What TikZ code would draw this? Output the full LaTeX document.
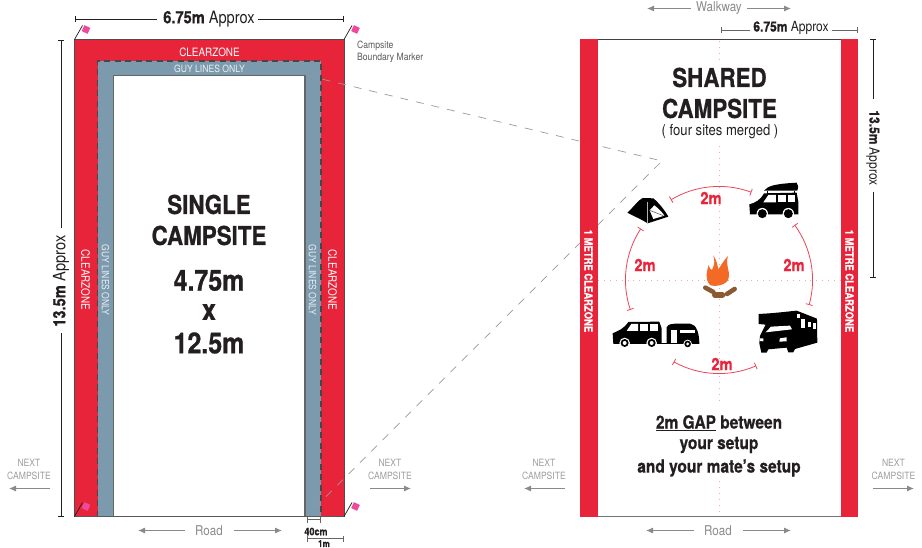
\documentclass[tikz,border=0pt]{standalone}
\usepackage{fontspec}
\usetikzlibrary{arrows.meta}
\setmainfont{TeX Gyre Heros}[FakeStretch=0.86,BoldFeatures={FakeBold=0.7}]
\definecolor{cred}{HTML}{E8243A}
\definecolor{cblue}{HTML}{7B9AAD}
\definecolor{cpink}{HTML}{EE4A9B}
\definecolor{cgrey}{HTML}{8A8A8A}
\definecolor{cdark}{HTML}{231F20}
\definecolor{corange}{HTML}{F26A26}
\definecolor{cbrown}{HTML}{8B5A33}
\definecolor{cdot}{HTML}{F6A9A9}
\tikzset{
  head/.style={font=\fontsize{26}{27}\selectfont\bfseries,text=cdark,inner sep=0pt},
  headnum/.style={font=\fontsize{29}{29}\selectfont\bfseries,text=cdark,inner sep=0pt},
  dimtext/.style={font=\fontsize{17}{17}\selectfont,text=cdark,inner sep=0pt},
  smalldim/.style={font=\fontsize{14}{14}\selectfont,text=cdark,inner sep=0pt},
  zone/.style={font=\fontsize{11.5}{11.5}\selectfont,text=white,inner sep=0pt},
  guy/.style={font=\fontsize{10}{10}\selectfont,text=white!85!cblue,inner sep=0pt},
  metre/.style={font=\fontsize{11}{11}\selectfont\bfseries,text=white,inner sep=0pt},
  greytext/.style={font=\fontsize{13.5}{13.5}\selectfont,text=cgrey,inner sep=0pt},
  nexttext/.style={font=\fontsize{10}{13}\selectfont,text=black!38,inner sep=0pt,align=center},
  gaplabel/.style={font=\fontsize{18}{22}\selectfont\bfseries,text=cdark,inner sep=0pt,align=center},
  twom/.style={font=\fontsize{17}{17}\selectfont\bfseries,text=cred,inner sep=0pt},
  dimline/.style={draw=cdark,line width=0.9pt,{Bar[width=6pt,length=0.9pt]}-{Bar[width=6pt,length=0.9pt]}},
  dimhalf/.style={draw=cdark,line width=0.9pt,{Bar[width=6pt,length=0.9pt]}-},
  dimhalfb/.style={draw=cdark,line width=0.9pt,-{Bar[width=6pt,length=0.9pt]}},
  greyarrow/.style={draw=cgrey,line width=1pt,-{Latex[length=7pt,width=6pt]}},
  ringarc/.style={draw=cred!85,line width=0.8pt,{Bar[width=7pt,length=0.8pt]}-{Bar[width=7pt,length=0.8pt]}},
  dotline/.style={draw=cdot,line width=0.9pt,dash pattern=on 0.9pt off 5pt},
  link/.style={draw=black!40,line width=0.7pt,dash pattern=on 8pt off 8pt},
  flagpole/.style={draw=cdark,line width=0.7pt},
  flag/.style={fill=cpink,draw=none,minimum width=6.5pt,minimum height=6.5pt,inner sep=0pt,rotate=-25},
  logline/.style={draw=cbrown,line width=4.6pt,line cap=round},
}
\begin{document}
\begin{tikzpicture}[x=1pt,y=-1pt]
\useasboundingbox (0,0) rectangle (922,548);
% ---------- left campsite
\fill[cred] (74.5,39.5) rectangle (344,516.5);
\draw[cdark!80,line width=0.8pt] (74.5,516.5) -- (74.5,39.5) -- (344,39.5) -- (344,516.5);
\fill[cblue] (97.5,61) rectangle (321,516.5);
\fill[white] (113.5,75.5) rectangle (305,516.5);
\draw[black!60,line width=1.1pt] (113.5,516.5) -- (113.5,75.5) -- (305,75.5) -- (305,516.5);
\draw[black!72,line width=1.4pt,dash pattern=on 6pt off 4.5pt] (97.5,516.5) -- (97.5,61) -- (321,61) -- (321,516.5);
\draw[black!65,line width=1.2pt] (74.5,516.5) -- (344,516.5);
% link lines
\coordinate (lkT) at (307,75.5);
\coordinate (lkB) at (307,515.5);
\coordinate (lkA) at (662,161);
\draw[link] (lkT) -- (lkA) -- (lkB);
% flags
\foreach \nm/\bx/\by in {a/74.5/39.5,b/344/39.5,c/74.5/516.5,d/344/516.5}{
  \coordinate (pole\nm) at (\bx,\by);
  \node[flag] (flag\nm) at (\bx+11.5,\by-10) {};
  \draw[flagpole] (pole\nm) -- ++(8,-14);
}
% texts
\node[zone] (cz1) at (209.5,52) {CLEARZONE};
\node[guy] (gl1) at (209.5,69) {GUY LINES ONLY};
\node[zone,rotate=-90] (cz2) at (85.5,280) {CLEARZONE};
\node[zone,rotate=-90] (cz3) at (332.5,280) {CLEARZONE};
\node[guy,rotate=-90] (gl2) at (105.5,280) {GUY LINES ONLY};
\node[guy,rotate=-90] (gl3) at (312.5,280) {GUY LINES ONLY};
\node[head] (s1) at (209,204.5) {SINGLE};
\node[head] (s2) at (209,235.5) {CAMPSITE};
\node[headnum] (s3) at (209,280.5) {4.75m};
\node[headnum] (s4) at (209,312) {x};
\node[headnum] (s5) at (209,343) {12.5m};
% dimensions left
\node[dimtext] (dt) at (209,19) {\textbf{6.75m} Approx};
\coordinate (dtL) at (74.5,19); \coordinate (dtR) at (343.5,19);
\draw[dimhalf] (dtL) -- (157,19);
\draw[dimhalfb] (258,19) -- (dtR);
\node[dimtext,rotate=90] (dl) at (61,281) {\textbf{13.5m} Approx};
\coordinate (dlT) at (61,40.5); \coordinate (dlB) at (61,516.5);
\draw[dimhalf] (dlT) -- (61,228);
\draw[dimhalfb] (61,333) -- (dlB);
\node[font=\fontsize{10}{12}\selectfont,text=black!65,inner sep=0pt,align=left,anchor=north west] (bm) at (357,40.5) {Campsite\\Boundary Marker};
\coordinate (d40a) at (306.5,519.5); \coordinate (d40b) at (320.5,519.5);
\draw[dimline,draw=black!60] (d40a) -- (d40b);
\node[font=\fontsize{10.5}{10.5}\selectfont\bfseries,text=cdark,inner sep=0pt] (n40) at (316,531.5) {40cm};
\coordinate (d1a) at (306.5,538.5); \coordinate (d1b) at (343.5,538.5);
\draw[dimline,draw=black!60] (d1a) -- (d1b);
\node[font=\fontsize{9.5}{9.5}\selectfont\bfseries,text=cdark,inner sep=0pt] (n1m) at (324,543.6) {1m};
% grey annotations left
\node[greytext] (road1) at (209,531) {Road};
\draw[greyarrow] (185,530.5) -- (138,530.5);
\draw[greyarrow] (234,530.5) -- (282,530.5);
\node[nexttext] (nc1) at (29,469.5) {NEXT\\CAMPSITE};
\node[nexttext] (nc2) at (390,469.5) {NEXT\\CAMPSITE};
\node[nexttext] (nc3) at (544,469.5) {NEXT\\CAMPSITE};
\node[nexttext] (nc4) at (893.5,469.5) {NEXT\\CAMPSITE};
\draw[greyarrow] (50,488.5) -- (9,488.5);
\draw[greyarrow] (370,488.5) -- (411,488.5);
\draw[greyarrow] (565,488.5) -- (524,488.5);
\draw[greyarrow] (873,488.5) -- (914,488.5);
% ---------- right campsite
\fill[cred] (580,39.5) rectangle (597.5,516.5);
\fill[cred] (841,39.5) rectangle (858,516.5);
\draw[cdark!85,line width=0.7pt] (597.5,39.5) -- (841,39.5);
\draw[black!55,line width=1.3pt] (597.5,516.5) -- (841,516.5);
\node[metre,rotate=-90] (m1) at (588.5,281) {1 METRE CLEARZONE};
\node[metre,rotate=-90] (m2) at (849.5,281) {1 METRE CLEARZONE};
\coordinate (fire) at (719,280);
% dotted cross
\draw[dotline] (719,41) -- (719,62);
\draw[dotline] (719,146) -- (719,400);
\draw[dotline] (719,481) -- (719,516);
\draw[dotline] (598,280) -- (840,280);
\node[head] (h1) at (719.5,77.5) {SHARED};
\node[head] (h2) at (719.5,108.5) {CAMPSITE};
\node[font=\fontsize{15.2}{15.2}\selectfont,text=cdark,inner sep=0pt] (h3) at (720,131.5) {( four sites merged )};
\node[gaplabel] (g1) at (719,423) {\underline{2m GAP} between};
\node[gaplabel] (g2) at (719,445) {your setup};
\node[gaplabel] (g3) at (719,468) {and your mate’s setup};
% dims right
\node[greytext] (walk) at (719,8.5) {Walkway};
\draw[greyarrow] (691,8.5) -- (647,8.5);
\draw[greyarrow] (747,8.5) -- (791,8.5);
\node[greytext] (road2) at (718,531) {Road};
\draw[greyarrow] (694,530.5) -- (646,530.5);
\draw[greyarrow] (743,530.5) -- (791,530.5);
\node[smalldim] (dr) at (791,28) {\textbf{6.75m} Approx};
\draw[dimhalf,draw=black!60] (720.5,30) -- (750,30);
\draw[dimhalfb,draw=black!60] (832,30) -- (858,30);
\node[smalldim,rotate=-90] (dv) at (873,148) {\textbf{13.5m} Approx};
\draw[dimhalf] (873,39.5) -- (873,99);
\draw[dimhalfb] (873,192) -- (873,278);
% rings
\coordinate (ctr) at (719,280);
\draw[ringarc] (ctr) ++(69.7:93.5pt) arc[start angle=69.7,end angle=121,radius=93.5pt];
\draw[ringarc] (ctr) ++(146.7:93.5pt) arc[start angle=146.7,end angle=198.6,radius=93.5pt];
\draw[ringarc] (ctr) ++(241:93.5pt) arc[start angle=241,end angle=293.4,radius=93.5pt];
\draw[ringarc] (ctr) ++(-15.5:93.5pt) arc[start angle=-15.5,end angle=36,radius=93.5pt];
\node[twom] (t1) at (711,198) {2m};
\node[twom] (t2) at (645,265) {2m};
\node[twom] (t3) at (794,265) {2m};
\node[twom] (t4) at (722,364) {2m};
% icons, in thirds of a pixel
\begin{scope}[shift={(600,170)},x=0.3333pt,y=-0.3333pt]
 % tent
 \fill[black] (82,128) .. controls (100,112) and (115,90) .. (128,84) -- (160,85) .. controls (178,100) and (195,122) .. (205,140) -- (143,160) .. controls (125,148) and (100,138) .. (82,128) -- cycle;
 \fill[white] (149,121) -- (163,106) .. controls (175,115) and (188,128) .. (193,137) -- (160,147) -- cycle;
 \draw[black!60,line width=0.6pt] (149,121) -- (190,137);
 \draw[white!70!black,line width=0.5pt] (143,95) -- (143,158);
 % SUV
 \fill[black] (492,62) .. controls (505,48) and (520,42) .. (590,38) .. controls (596,45) and (596,55) .. (592,62) -- cycle;
 \fill[black] (500,62) rectangle (504,72);
 \fill[black] (582,62) rectangle (586,72);
 \fill[black] (448,103) .. controls (465,98) and (480,92) .. (492,70) -- (590,68) -- (595,95) -- (595,133) -- (450,133) -- cycle;
 \fill[white] (505,75) -- (528,75) -- (528,97) -- (490,97) -- cycle;
 \fill[white] (533,74) rectangle (558,97);
 \fill[white] (563,74) rectangle (586,97);
 \foreach \cx in {487,565}{\fill[white] (\cx,131) circle[radius=5.7pt]; \fill[black] (\cx,131) circle[radius=4.5pt];}
 % car
 \fill[black] (38,490) .. controls (55,482) and (70,478) .. (85,456) -- (178,455) -- (185,475) -- (185,522) -- (40,522) -- cycle;
 \fill[white] (94,462) -- (114,462) -- (114,483) -- (80,483) -- cycle;
 \fill[white] (120,462) rectangle (145,483);
 \fill[white] (150,462) rectangle (173,483);
 \foreach \cx in {74,155}{\fill[white] (\cx,519) circle[radius=5.3pt]; \fill[black] (\cx,519) circle[radius=4pt]; \fill[white] (\cx,519) circle[radius=2pt];}
 % caravan
 \fill[black] (200,472) .. controls (205,462) and (215,462) .. (225,461) -- (270,461) .. controls (290,463) and (298,490) .. (298,522) -- (200,522) -- cycle;
 \draw[black,line width=1pt] (178,521) -- (205,521);
 \fill[white] (212,480) rectangle (230,518);
 \fill[white] (240,480) rectangle (285,490);
 \fill[white] (263,522) circle[radius=4.3pt]; \fill[black] (263,522) circle[radius=3.3pt]; \fill[white] (263,522) circle[radius=1.6pt];
 % motorhome
 \fill[black] (476,432) .. controls (520,430) and (560,425) .. (590,422) -- (651,446) -- (652,518) -- (585,537) -- (580,547) -- (565,547) -- (560,533) -- (505,538) -- (500,548) -- (484,548) -- (478,520) -- (480,498) -- (497,464) -- (476,462) -- cycle;
 \fill[white] (497,487) -- (513,470) -- (570,467) -- (576,478) -- cycle;
 \fill[white] (603,446) rectangle (615,475);
 \fill[white] (591,431) rectangle (600,445);
 \fill[white] (625,455) rectangle (634,472);
 \fill[white] (640,458) rectangle (648,478);
 \fill[white] (540,505) -- (560,502) -- (560,514) -- (538,515) -- cycle;
 \fill[white] (480,505) -- (490,505) -- (490,514) -- (480,513) -- cycle;
 % fire
 \fill[corange] (340,256) .. controls (352,275) and (352,285) .. (355,298) .. controls (362,288) and (372,270) .. (384,258) .. controls (375,285) and (392,305) .. (386,325) .. controls (382,345) and (345,352) .. (330,345) .. controls (312,325) and (322,300) .. (326,285) .. controls (328,295) and (332,298) .. (336,300) .. controls (344,285) and (345,270) .. (340,256) -- cycle;
 \draw[logline] (316,353) -- (340,366);
 \draw[logline] (404,357) -- (381,372);
 \draw[logline,line width=6pt] (345,375) -- (367,375);
\end{scope}
\end{tikzpicture}
\end{document}
